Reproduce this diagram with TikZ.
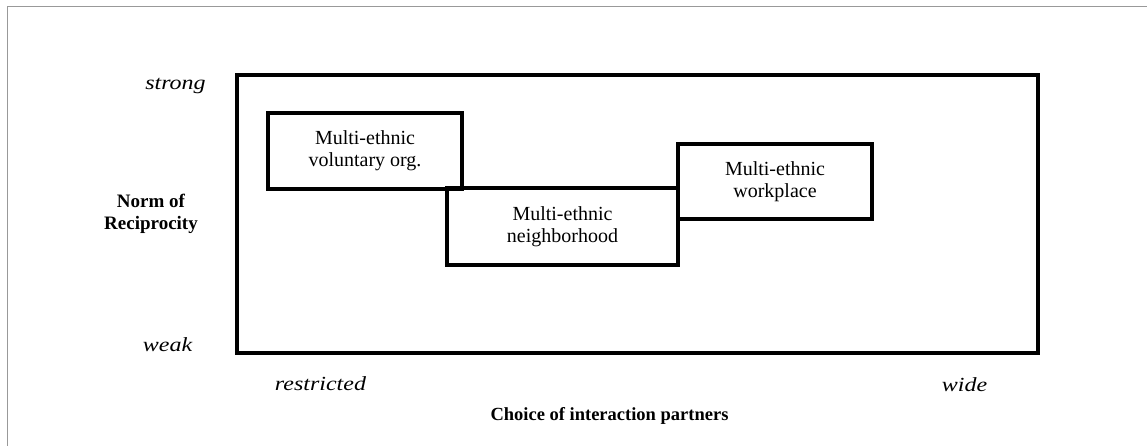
\documentclass[tikz,border=0pt]{standalone}
\usepackage{fontspec}
\setmainfont{Liberation Serif}
\usepackage{graphicx}
\newcommand{\axlab}[1]{\scalebox{1.2}[1]{\itshape #1}}
\begin{document}
\begin{tikzpicture}[x=1pt,y=-1pt,
  box/.style={draw, line width=3.2pt, rectangle, inner sep=0pt, align=center,
    font=\fontsize{20}{22}\selectfont},
  ends/.style={anchor=base, inner sep=0pt, font=\fontsize{20}{22}\selectfont},
  ttl/.style={align=center, inner sep=0pt, font=\fontsize{19}{22}\selectfont\bfseries},
  pageframe/.style={draw=black!40, line width=1pt}]
\useasboundingbox (0,0) rectangle (1147,446);
\draw[pageframe] (7,446) -- (7,7) -- (1147,7);
\node[box, minimum width=801pt, minimum height=278pt] (outer) at (637.5,214) {};
\node[box, minimum width=194pt, minimum height=76pt] (vol) at (365,151) {Multi-ethnic\\voluntary org.};
\node[box, minimum width=231pt, minimum height=77pt] (nbh) at (562.5,226.5) {Multi-ethnic\\neighborhood};
\node[box, minimum width=194pt, minimum height=75pt] (work) at (775,181.5) {Multi-ethnic\\workplace};
\node[ends] (strong) at (175.5,90) {\axlab{strong}};
\node[ends] (weak) at (167.5,351) {\axlab{weak}};
\node[ends] (restricted) at (320.5,390) {\axlab{restricted}};
\node[ends] (wide) at (964.5,391) {\axlab{wide}};
\node[ttl] (norm) at (151,214) {Norm of\\Reciprocity};
\node[ttl, anchor=base, font=\fontsize{18.5}{22}\selectfont\bfseries] (choice) at (609.5,420) {Choice of interaction partners};
\end{tikzpicture}
\end{document}
